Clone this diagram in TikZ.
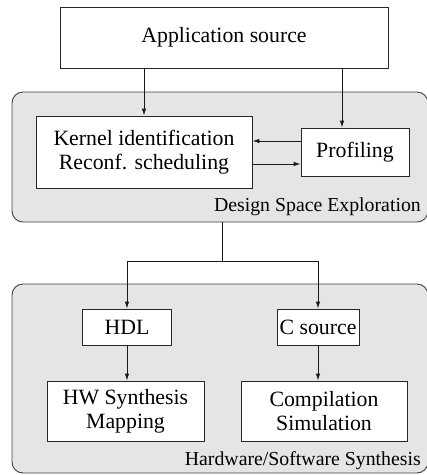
\documentclass[tikz,border=0pt]{standalone}
\usepackage{fontspec}
\setmainfont{Liberation Serif}
\usetikzlibrary{arrows.meta}
\tikzset{
  boxnode/.style={draw=black!85, line width=0.9pt, fill=white, inner sep=0pt, align=center,
    font=\fontsize{21.8}{24}\selectfont},
  groupnode/.style={draw=black!75, line width=0.9pt, fill=black!10, rounded corners=11pt, inner sep=0pt},
  grouplabel/.style={inner sep=0pt, anchor=base east, font=\fontsize{19.8}{22}\selectfont},
  conn/.style={draw=black!90, line width=0.9pt},
  arr/.style={conn, -{Latex[length=7pt,width=4.5pt]}},
}
\begin{document}
\begin{tikzpicture}[x=1pt,y=-1pt]
\useasboundingbox (0,0) rectangle (427,475);
% groups
\node[groupnode, minimum width=416pt, minimum height=130pt] (dse) at (220,157) {};
\node[groupnode, minimum width=416pt, minimum height=189pt] (hws) at (220,378.5) {};
\node[grouplabel] (dselab) at (421,211) {Design Space Exploration};
\node[grouplabel] (hwslab) at (421,465) {Hardware/Software Synthesis};
% boxes
\node[boxnode, minimum width=328pt, minimum height=61pt] (app) at (224,37.5) {Application source};
\node[boxnode, minimum width=216pt, minimum height=72pt] (kern) at (144,152) {Kernel identification\\Reconf. scheduling};
\node[boxnode, minimum width=108pt, minimum height=48pt] (prof) at (355,152) {Profiling};
\node[boxnode, minimum width=89pt, minimum height=36pt] (hdl) at (127,327) {HDL};
\node[boxnode, minimum width=82pt, minimum height=36pt] (csrc) at (318,327) {C source};
\node[boxnode, minimum width=157pt, minimum height=60pt] (hw) at (125.5,411) {HW Synthesis\\Mapping};
\node[boxnode, minimum width=166pt, minimum height=60pt] (comp) at (324,411) {Compilation\\Simulation};
% connectors
\draw[arr] (kern.north |- app.south) -- (kern.north);
\draw[arr] ([xshift=-13pt]prof.north |- app.south) -- ([xshift=-13pt]prof.north);
\draw[arr] ([yshift=11pt]prof.west) -- ([yshift=11pt]prof.west -| kern.east);
\draw[arr] ([yshift=-12pt]prof.west -| kern.east) -- ([yshift=-12pt]prof.west);
\coordinate (split) at (222,261);
\draw[conn] (split |- dse.south) -- (split);
\draw[arr] (split) -| (hdl.north);
\draw[arr] (split) -| (csrc.north);
\draw[arr] (hdl.south) -- (hdl.south |- hw.north);
\draw[arr] (csrc.south) -- (csrc.south |- comp.north);
\end{tikzpicture}
\end{document}
